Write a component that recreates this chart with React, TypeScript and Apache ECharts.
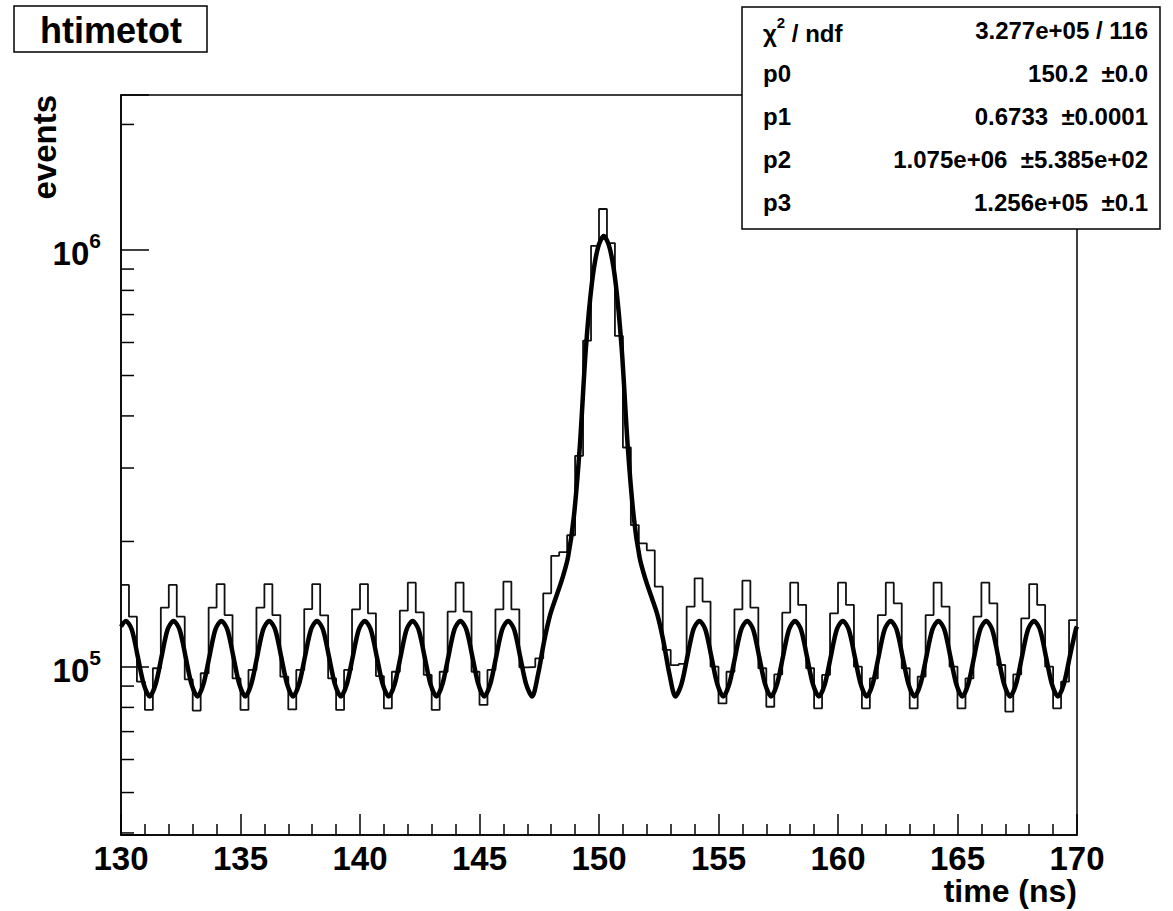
import React, { useEffect, useRef } from "react";
import * as echarts from "echarts";

// ---------- data ----------
const xMin = 130;
const xMax = 170;
const xTickInterval = 5;
const binWidth = 1 / 3; // 120 bins between 130 and 170 ns

// histogram contents, one value per bin (bin 0 = [130, 130.33))
const histCounts = [
  157300, 132000, 92200, 78900, 99300, 138800,
  157300, 132000, 93400, 78600, 96600, 138800,
  158100, 133200, 93900, 78900, 98400, 138800,
  158100, 133200, 94800, 79100, 98400, 137700,
  158100, 133000, 93900, 78900, 98400, 137500,
  158100, 134500, 95100, 79600, 97400, 136500,
  159300, 135200, 95700, 78900, 97400, 135700,
  159300, 135700, 97400, 81100, 98400, 137500,
  160200, 137500, 99800, 100000, 104900, 150200,
  184800, 188500, 207000, 321000, 606000, 1023000,
  1254000, 1039000, 622000, 336000, 219000, 198000,
  190400, 155800, 109900, 101000, 101700, 139500,
  163200, 143500, 100200, 81800, 97400, 137500,
  161100, 138800, 99300, 80300, 96000, 135000,
  159300, 140900, 99300, 79600, 95700, 134500,
  159300, 140900, 100200, 79600, 93900, 133200,
  159300, 142100, 99300, 79600, 94800, 133200,
  159300, 139600, 100200, 79600, 93900, 132000,
  159300, 142100, 101100, 78200, 96000, 130800,
  158100, 140900, 100200, 79600, 92200, 129600,
];

// fitted curve, every 0.25 ns starting at 130.2 ns
const fitSampleStart = 130.2;
const fitSampleStep = 0.25;
const fitValues = [
  129000, 123000, 106000, 91000, 85000, 91000, 106000, 123000,
  129000, 123000, 106000, 91000, 85000, 91000, 106000, 123000,
  129000, 123000, 106000, 91000, 85000, 91000, 106000, 123000,
  129000, 123000, 106000, 91000, 85000, 91000, 106000, 123000,
  129000, 123000, 106000, 91000, 85000, 91000, 106000, 123000,
  129000, 123000, 106000, 91000, 85000, 91000, 106000, 123000,
  129000, 123000, 106000, 91000, 85000, 91000, 106000, 123000,
  129000, 123000, 106000, 91000, 85000, 91000, 106000, 123000,
  129000, 123000, 106000, 91000, 85000,
  96000, 115000, 133000, 147000, 162000, 183000, 230000, 340000, 580000, 830000, 1010000,
  1080000,
  1010000, 830000, 580000, 340000, 230000, 183000, 162000, 147000, 133000, 115000, 96000,
  85000, 91000, 106000, 123000, 129000, 123000, 106000, 91000,
  85000, 91000, 106000, 123000, 129000, 123000, 106000, 91000,
  85000, 91000, 106000, 123000, 129000, 123000, 106000, 91000,
  85000, 91000, 106000, 123000, 129000, 123000, 106000, 91000,
  85000, 91000, 106000, 123000, 129000, 123000, 106000, 91000,
  85000, 91000, 106000, 123000, 129000, 123000, 106000, 91000,
  85000, 91000, 106000, 123000, 129000, 123000, 106000, 91000,
  85000, 91000, 106000, 123000, 129000, 123000, 106000, 91000,
  85000, 91000, 106000, 123000,
];
const fitValueAtXMin = 125000;
const fitValueAtXMax = 125000;

// y axis (log)
const yMin = 39550;
const yMax = 2353000;
const yMinorTicks = [
  40000, 50000, 60000, 70000, 80000, 90000,
  200000, 300000, 400000, 500000, 600000, 700000, 800000, 900000,
  2000000,
];

// texts
const histTitle = "htimetot";
const xTitle = "time (ns)";
const yTitle = "events";
const statsLabels = ["{n|χ}{s|2}{n| / ndf}", "p0", "p1", "p2", "p3"];
const statsValues = [
  "3.277e+05 / 116",
  "150.2\u00a0\u00a0±0.0",
  "0.6733\u00a0\u00a0±0.0001",
  "1.075e+06\u00a0\u00a0±5.385e+02",
  "1.256e+05\u00a0\u00a0±0.1",
];

const FONT = '"Liberation Sans", Arial, Helvetica, sans-serif';
const STATS_FS = 24;

function buildOption() {
  const histData: number[][] = histCounts.map((v, i) => [xMin + i * binWidth, v]);
  histData.push([xMax, histCounts[histCounts.length - 1]]);

  const fitData: number[][] = [[xMin, fitValueAtXMin]];
  fitValues.forEach((v, i) => fitData.push([fitSampleStart + i * fitSampleStep, v]));
  fitData.push([xMax, fitValueAtXMax]);

  const statsGraphics: any[] = [
    {
      type: "rect",
      z: 100,
      shape: { x: 742, y: 7, width: 418, height: 222 },
      style: { fill: "#fff", stroke: "#000", lineWidth: 1.5 },
    },
  ];
  statsLabels.forEach((t, i) => {
    statsGraphics.push({
      type: "text",
      z: 101,
      x: 763,
      y: 30 + 43 * i,
      style: {
        text: t,
        fill: "#000",
        fontFamily: FONT,
        fontWeight: "bold",
        fontSize: STATS_FS,
        textAlign: "left",
        textVerticalAlign: "middle",
        rich: {
          n: { fontSize: STATS_FS, fontWeight: "bold", fontFamily: FONT, fill: "#000", lineHeight: 30, verticalAlign: "bottom" },
          s: { fontSize: 15, fontWeight: "bold", fontFamily: FONT, fill: "#000", lineHeight: 20, verticalAlign: "top" },
        },
      },
    });
  });
  statsValues.forEach((t, i) => {
    statsGraphics.push({
      type: "text",
      z: 101,
      x: 1148,
      y: 30 + 43 * i,
      style: {
        text: t,
        fill: "#000",
        fontFamily: FONT,
        fontWeight: "bold",
        fontSize: STATS_FS,
        textAlign: "right",
        textVerticalAlign: "middle",
      },
    });
  });

  return {
    animation: false,
    backgroundColor: "#fff",
    grid: {
      left: 121,
      right: 96,
      top: 95,
      bottom: 76,
      show: true,
      borderColor: "#000",
      borderWidth: 1.5,
      backgroundColor: "transparent",
    },
    xAxis: {
      type: "value",
      min: xMin,
      max: xMax,
      interval: xTickInterval,
      axisLine: { show: true, onZero: false, lineStyle: { color: "#000", width: 1.5 } },
      axisTick: { show: true, inside: true, length: 21, lineStyle: { color: "#000", width: 1.5 } },
      minorTick: { show: true, splitNumber: 5, length: 11, lineStyle: { color: "#000", width: 1.5 } },
      splitLine: { show: false },
      minorSplitLine: { show: false },
      axisLabel: {
        color: "#000",
        fontFamily: FONT,
        fontWeight: "bold",
        fontSize: 33,
        lineHeight: 30,
        margin: 8,
        showMinLabel: true,
        showMaxLabel: true,
      },
    },
    yAxis: {
      type: "log",
      logBase: 10,
      min: yMin,
      max: yMax,
      axisLine: { show: true, lineStyle: { color: "#000", width: 1.5 } },
      axisTick: { show: true, inside: true, length: 28, lineStyle: { color: "#000", width: 1.5 } },
      splitLine: { show: false },
      axisLabel: {
        margin: 20,
        color: "#000",
        formatter: (value: number) => {
          const e = Math.log10(value);
          const r = Math.round(e);
          if (Math.abs(e - r) > 1e-6) return "";
          return `{b|10}{s|${r}}`;
        },
        rich: {
          b: { fontFamily: FONT, fontWeight: "bold", fontSize: 33, color: "#000", lineHeight: 40, verticalAlign: "bottom" },
          s: { fontFamily: FONT, fontWeight: "bold", fontSize: 21, color: "#000", lineHeight: 22, verticalAlign: "top" },
        },
      },
    },
    series: [
      {
        name: "histogram",
        type: "line",
        step: "end",
        data: histData,
        symbol: "none",
        silent: true,
        z: 2,
        lineStyle: { color: "#111", width: 1.8 },
      },
      {
        name: "fit",
        type: "line",
        data: fitData,
        smooth: 0.3,
        symbol: "none",
        silent: true,
        z: 3,
        lineStyle: { color: "#000", width: 4.5 },
      },
      {
        name: "yMinorTicks",
        type: "custom",
        silent: true,
        clip: false,
        z: 4,
        data: yMinorTicks.map((v) => [xMin, v]),
        renderItem: (_params: any, api: any) => {
          const p = api.coord([api.value(0), api.value(1)]);
          return {
            type: "line",
            shape: { x1: p[0], y1: p[1], x2: p[0] + 13, y2: p[1] },
            style: { stroke: "#000", lineWidth: 1.5 },
          };
        },
      },
    ],
    graphic: [
      {
        type: "rect",
        z: 100,
        shape: { x: 14, y: 6, width: 193, height: 46 },
        style: { fill: "#fff", stroke: "#000", lineWidth: 1.5 },
      },
      {
        type: "text",
        z: 101,
        x: 111,
        y: 30,
        style: {
          text: histTitle,
          fill: "#000",
          fontFamily: FONT,
          fontWeight: "bold",
          fontSize: 36,
          textAlign: "center",
          textVerticalAlign: "middle",
        },
      },
      {
        type: "text",
        z: 101,
        x: 1077,
        y: 891,
        style: {
          text: xTitle,
          fill: "#000",
          fontFamily: FONT,
          fontWeight: "bold",
          fontSize: 32,
          textAlign: "right",
          textVerticalAlign: "middle",
        },
      },
      {
        type: "text",
        z: 101,
        x: 44,
        y: 95,
        rotation: Math.PI / 2,
        style: {
          text: yTitle,
          fill: "#000",
          fontFamily: FONT,
          fontWeight: "bold",
          fontSize: 33,
          textAlign: "right",
          textVerticalAlign: "middle",
        },
      },
      ...statsGraphics,
    ],
  };
}

export default function App() {
  const ref = useRef<HTMLDivElement>(null);
  useEffect(() => {
    if (!ref.current) return;
    const chart = echarts.init(ref.current, undefined, { renderer: "svg" });
    chart.setOption(buildOption() as any);
    return () => chart.dispose();
  }, []);
  return (
    <div
      ref={ref}
      style={{ position: "absolute", left: 0, top: 0, width: 1173, height: 911, background: "#fff" }}
    />
  );
}
